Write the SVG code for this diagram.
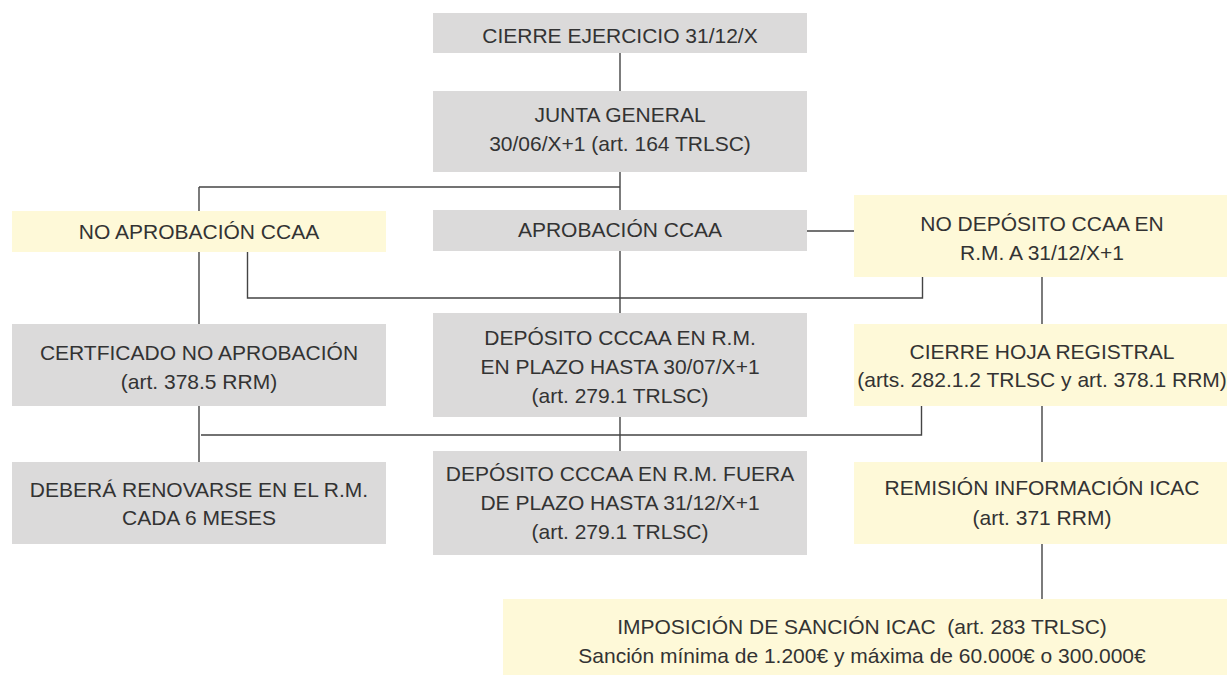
<svg xmlns="http://www.w3.org/2000/svg" width="1227" height="675" viewBox="0 0 1227 675">
<style>
.g{fill:#dbdada}
.y{fill:#fef9d8}
text{font-family:"Liberation Sans",Arial,sans-serif;font-size:21px;fill:#333;text-anchor:middle}
.c{fill:none;stroke:#444;stroke-width:1.4}
</style>
<rect width="1227" height="675" fill="#fff"/>
<g id="connectors" class="c">
<path d="M620,53V91"/>
<path d="M620,172V210"/>
<path d="M199,187H620"/>
<path d="M199,187V324"/>
<path d="M247.5,252V298H922.5V277"/>
<path d="M807,231H854"/>
<path d="M620,251V313"/>
<path d="M1042,277V324"/>
<path d="M199,406V462"/>
<path d="M201,435H921.5V406"/>
<path d="M620,417V451"/>
<path d="M1042,406V462"/>
<path d="M1042,544V599"/>
</g>
<g id="cierre"><rect class="g" x="433" y="13" width="374" height="40"/><text x="620" y="43">CIERRE EJERCICIO 31/12/X</text></g>
<g id="junta"><rect class="g" x="433" y="91" width="374" height="81"/><text x="620" y="122">JUNTA GENERAL</text><text x="620" y="151">30/06/X+1 (art. 164 TRLSC)</text></g>
<g id="no-aprobacion"><rect class="y" x="12" y="211" width="374" height="41"/><text x="199" y="239">NO APROBACIÓN CCAA</text></g>
<g id="aprobacion"><rect class="g" x="433" y="210" width="374" height="41"/><text x="620" y="237">APROBACIÓN CCAA</text></g>
<g id="no-deposito"><rect class="y" x="854" y="195" width="376" height="82"/><text x="1042" y="231">NO DEPÓSITO CCAA EN</text><text x="1042" y="259.5">R.M. A 31/12/X+1</text></g>
<g id="certificado"><rect class="g" x="12" y="324" width="374" height="82"/><text x="199" y="360">CERTFICADO NO APROBACIÓN</text><text x="199" y="388.5">(art. 378.5 RRM)</text></g>
<g id="deposito-plazo"><rect class="g" x="433" y="313" width="374" height="104"/><text x="620" y="344.5">DEPÓSITO CCCAA EN R.M.</text><text x="620" y="373.5">EN PLAZO HASTA 30/07/X+1</text><text x="620" y="402.5">(art. 279.1 TRLSC)</text></g>
<g id="cierre-hoja"><rect class="y" x="854" y="324" width="376" height="82"/><text x="1042" y="359">CIERRE HOJA REGISTRAL</text><text x="1042" y="387">(arts. 282.1.2 TRLSC y art. 378.1 RRM)</text></g>
<g id="debera"><rect class="g" x="12" y="462" width="374" height="82"/><text x="199" y="497">DEBERÁ RENOVARSE EN EL R.M.</text><text x="199" y="525">CADA 6 MESES</text></g>
<g id="deposito-fuera"><rect class="g" x="433" y="451" width="374" height="104"/><text x="620" y="481">DEPÓSITO CCCAA EN R.M. FUERA</text><text x="620" y="510">DE PLAZO HASTA 31/12/X+1</text><text x="620" y="539">(art. 279.1 TRLSC)</text></g>
<g id="remision"><rect class="y" x="854" y="462" width="376" height="82"/><text x="1042" y="495">REMISIÓN INFORMACIÓN ICAC</text><text x="1042" y="524.5">(art. 371 RRM)</text></g>
<g id="imposicion"><rect class="y" x="503" y="599" width="730" height="76"/><text x="862" y="634" xml:space="preserve" style="white-space:pre">IMPOSICIÓN DE SANCIÓN ICAC  (art. 283 TRLSC)</text><text x="862" y="662.5">Sanción mínima de 1.200€ y máxima de 60.000€ o 300.000€</text></g>
</svg>
